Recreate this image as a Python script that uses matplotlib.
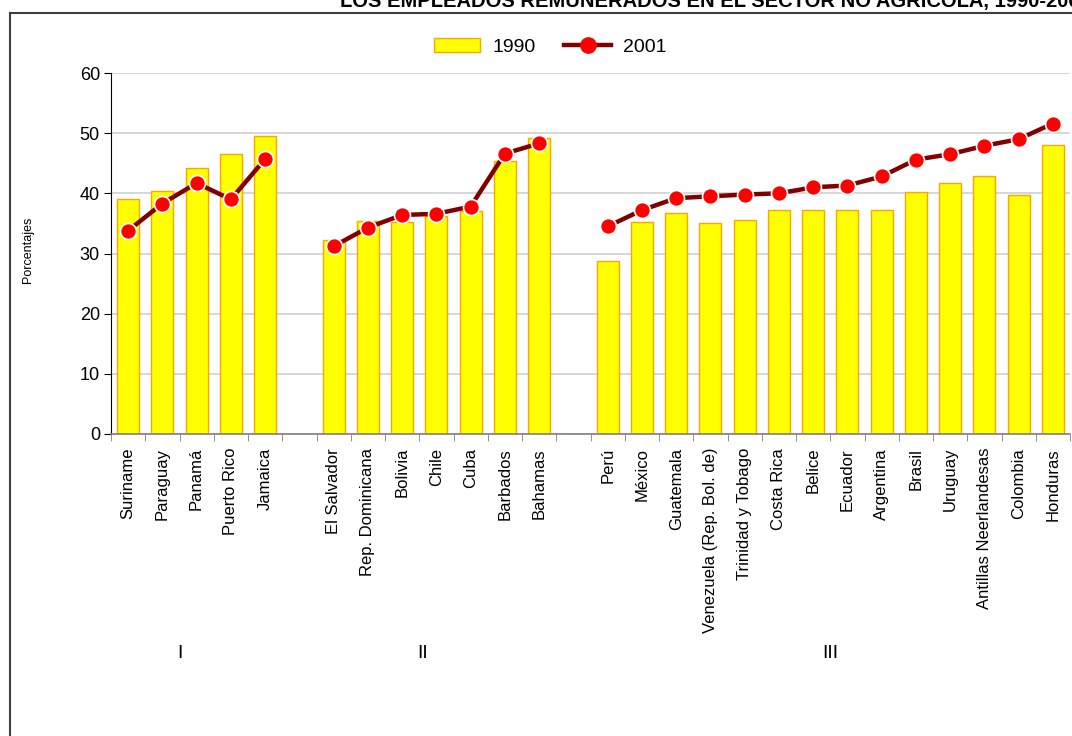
import numpy as np
import matplotlib.pyplot as plt
from matplotlib.lines import Line2D
from matplotlib.patches import Patch

plt.rcParams['font.family'] = ['Liberation Sans', 'DejaVu Sans']

# data (percentages)
group_I = ["Suriname", "Paraguay", "Panamá", "Puerto Rico", "Jamaica"]
v1990_I = [39.0, 40.4, 44.2, 46.5, 49.6]
v2001_I = [33.8, 38.3, 41.7, 39.0, 45.7]

group_II = ["El Salvador", "Rep. Dominicana", "Bolivia", "Chile", "Cuba",
            "Barbados", "Bahamas"]
v1990_II = [32.2, 35.4, 35.2, 36.2, 37.0, 45.4, 49.2]
v2001_II = [31.2, 34.3, 36.4, 36.6, 37.8, 46.6, 48.3]

group_III = ["Perú", "México", "Guatemala", "Venezuela (Rep. Bol. de)",
             "Trinidad y Tobago", "Costa Rica", "Belice", "Ecuador",
             "Argentina", "Brasil", "Uruguay", "Antillas Neerlandesas",
             "Colombia", "Honduras"]
v1990_III = [28.8, 35.2, 36.7, 35.1, 35.5, 37.2, 37.3, 37.2, 37.3, 40.2,
             41.8, 42.9, 39.8, 48.0]
v2001_III = [34.5, 37.2, 39.2, 39.5, 39.8, 40.0, 41.0, 41.3, 42.8, 45.6,
             46.5, 47.9, 49.0, 51.6]

groups = [(group_I, v1990_I, v2001_I, "I"),
          (group_II, v1990_II, v2001_II, "II"),
          (group_III, v1990_III, v2001_III, "III")]

W, H = 1072, 736
fig = plt.figure(figsize=(W / 100, H / 100), dpi=100)
ax = fig.add_axes([111 / W, 1 - 434 / H, (1070 - 111) / W, (434 - 73) / H])

pos = 0
labels, xticks = [], []
group_pos = {"I": 1.5, "II": 8.6, "III": 20.5}
for names, b, l, roman in groups:
    x = np.arange(pos, pos + len(names))
    ax.bar(x, b, width=0.64, color="#FFFF00", edgecolor="#FFA500",
           linewidth=1.0, zorder=2)
    ax.plot(x, l, color="#800000", lw=3.2, marker="o", markersize=11.5,
            markerfacecolor="#FF0000", markeredgecolor="white",
            markeredgewidth=1.2, zorder=3)
    labels += names
    xticks += list(x)
    ax.text(group_pos[roman], -36.5, roman, ha="center", va="center",
            fontsize=14)
    pos += len(names) + 1

n_slots = pos - 1
ax.set_xlim(-0.5, n_slots - 0.5)
ax.set_ylim(0, 60)
ax.set_yticks(range(0, 61, 10))
ax.set_xticks(xticks)
ax.set_xticklabels(labels, rotation=90, fontsize=12)
ax.set_xticks(np.arange(-0.5, n_slots, 1), minor=True)
ax.tick_params(axis="x", which="major", length=0, pad=10)
ax.tick_params(axis="x", which="minor", length=5, color="#808080")
ax.tick_params(axis="y", labelsize=13, length=5, pad=3)

ax.grid(axis="y", color="#d0d0d0", lw=1.2, zorder=0)
ax.set_axisbelow(True)
for s in ["top", "right"]:
    ax.spines[s].set_visible(False)
ax.spines["bottom"].set_color("#808080")
ax.spines["bottom"].set_linewidth(1.2)
ax.spines["left"].set_color("black")

fig.text(28 / W, 1 - 250 / H, "Porcentajes", rotation=90, ha="center",
         va="center", fontsize=9)

handles = [Patch(facecolor="#FFFF00", edgecolor="#FFA500", lw=1.0),
           Line2D([], [], color="#800000", lw=3.2, marker="o", markersize=11,
                  markerfacecolor="#FF0000", markeredgecolor="#FF0000")]
fig.legend(handles, ["1990", "2001"], loc="center",
           bbox_to_anchor=(550 / W, 1 - 47 / H), ncol=2, frameon=False,
           fontsize=14, handlelength=2.4, columnspacing=1.5,
           handletextpad=0.6)

# outer frame and the title above it, clipped by the top edge as in the source
fig.add_artist(Line2D([10 / W, 1], [1 - 13 / H] * 2, color="#404040",
                      lw=1.5, transform=fig.transFigure))
fig.add_artist(Line2D([10 / W] * 2, [0, 1 - 13 / H], color="#404040",
                      lw=1.5, transform=fig.transFigure))
fig.text(340 / W, 1 - 7 / H,
         "LOS EMPLEADOS REMUNERADOS EN EL SECTOR NO AGRÍCOLA, 1990-2001",
         ha="left", va="baseline", fontsize=14.5, fontweight="bold")

fig.savefig("out.png", dpi=100)
